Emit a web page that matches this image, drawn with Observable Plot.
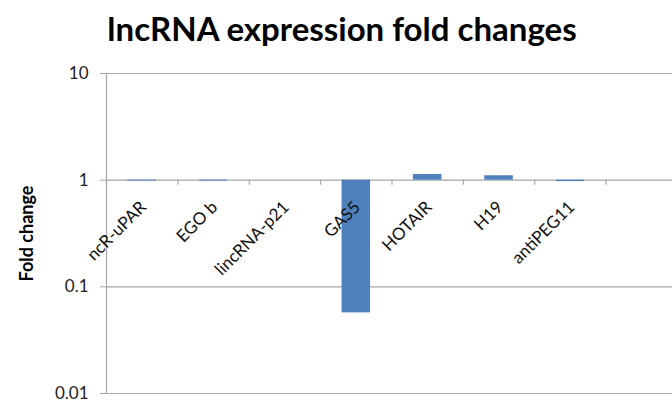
<!DOCTYPE html>
<html><head><meta charset="utf-8">
<script src="https://cdn.jsdelivr.net/npm/d3@7"></script>
<script src="https://cdn.jsdelivr.net/npm/@observablehq/plot@0.6"></script>
<style>
body{margin:0;background:#fff;}
#wrap{position:relative;width:672px;height:401px;overflow:hidden;}
#title{position:absolute;left:0;top:12px;width:684px;text-align:center;font-family:Lato,sans-serif;font-weight:bold;font-size:33px;line-height:33px;color:#000;}
#chart{position:absolute;left:0;top:0;}
</style></head><body>
<div id="wrap"><div id="chart"></div><div id="title">lncRNA expression fold changes</div></div>
<script>
const categories = ["ncR-uPAR", "EGO b", "lincRNA-p21", "GAS5", "HOTAIR", "H19", "antiPEG11"];
const foldChanges = [0.98, 0.98, 1.0, 0.057, 1.13, 1.10, 0.97];
const yTicks = [0.01, 0.1, 1, 10];
const yTickLabels = ["0.01", "0.1", "1", "10"];
const yLabel = "Fold change";
const slotCount = 8; // category slots on the axis (last one empty, as in the source)

const data = categories.map((name, i) => ({name, i, value: foldChanges[i]}));
const boundaries = d3.range(0, slotCount + 1);
const gap = 0.3;
const gridColor = "#a6a6a6";

const chart = Plot.plot({
  width: 672, height: 401,
  marginLeft: 106, marginRight: 0, marginTop: 73, marginBottom: 8,
  style: {fontFamily: "Lato, sans-serif", background: "#fff", color: "#000"},
  x: {type: "linear", domain: [0, slotCount], range: [106, 677], axis: null},
  y: {type: "log", domain: [0.01, 10], axis: null},
  marks: [
    Plot.gridY(yTicks, {stroke: gridColor, strokeOpacity: 1, strokeWidth: 1.2}),
    Plot.ruleX([0], {stroke: gridColor, strokeWidth: 1.2}),
    Plot.axisY(yTicks, {
      tickSize: 6, tickPadding: 12, stroke: gridColor, fontSize: 17, fill: "#222",
      tickFormat: d => yTickLabels[yTicks.indexOf(d)], label: null
    }),
    Plot.ruleX(boundaries, {x: d => d, y1: 1, y2: 1, insetBottom: -5, stroke: gridColor, strokeWidth: 1.2}),
    Plot.rect(data, {x1: d => d.i + gap, x2: d => d.i + 1 - gap, y1: 1, y2: "value", fill: "#4F81BD"}),
    Plot.text(data, {
      x: d => d.i + 0.5, y: 1, text: "name", rotate: -45, textAnchor: "end", lineAnchor: "bottom",
      dx: 5, dy: 28, fontSize: 17, fill: "#111"
    }),
    Plot.text([yLabel], {
      text: d => d, frameAnchor: "left", textAnchor: "middle", dx: -79, rotate: -90,
      fontWeight: "bold", fontSize: 18, fill: "#000"
    })
  ]
});
document.getElementById("chart").appendChild(chart);
</script>
</body></html>
